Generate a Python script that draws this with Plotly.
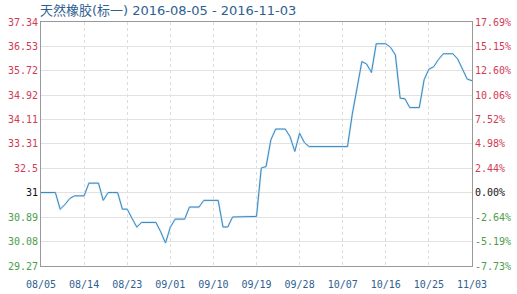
import plotly.graph_objects as go
import pandas as pd

start_date = "2016-08-05"
prices = [
    31.70, 31.70, 31.70, 31.70, 31.15, 31.30, 31.50, 31.59, 31.59, 31.59,   # 08/05-08/14
    32.01, 32.01, 32.01, 31.44, 31.70, 31.70, 31.70, 31.15, 31.15, 30.85,   # 08/15-08/24
    30.56, 30.71, 30.71, 30.71, 30.71, 30.40, 30.03, 30.55, 30.82, 30.82,   # 08/25-09/03
    30.82, 31.22, 31.22, 31.22, 31.44, 31.44, 31.44, 31.44, 30.56, 30.56,   # 09/04-09/13
    30.89, 30.89, 30.89, 30.89, 30.89, 30.91, 32.51, 32.56, 33.44, 33.80,   # 09/14-09/23
    33.80, 33.80, 33.55, 33.06, 33.66, 33.35, 33.22, 33.22, 33.22, 33.22,   # 09/24-10/03
    33.22, 33.22, 33.22, 33.22, 33.22, 34.29, 35.19, 36.03, 35.95, 35.67,   # 10/04-10/13
    36.62, 36.62, 36.62, 36.50, 36.25, 34.82, 34.80, 34.51, 34.51, 34.51,   # 10/14-10/23
    35.43, 35.78, 35.86, 36.10, 36.29, 36.29, 36.29, 36.12, 35.78, 35.45,   # 10/24-11/02
    35.40,                                                                   # 11/03
]
dates = pd.date_range(start_date, periods=len(prices), freq="D")

base_price = 31.70
y_ticks = [37.34, 36.53, 35.72, 34.92, 34.11, 33.31, 32.5, 31.70, 30.89, 30.08, 29.27]
y_labels = ["37.34", "36.53", "35.72", "34.92", "34.11", "33.31", "32.5", "31", "30.89", "30.08", "29.27"]
pct_labels = ["17.69%", "15.15%", "12.60%", "10.06%", "7.52%", "4.98%", "2.44%", "0.00%", "-2.64%", "-5.19%", "-7.73%"]
x_tick_dates = ["2016-08-05", "2016-08-14", "2016-08-23", "2016-09-01", "2016-09-10", "2016-09-19",
                "2016-09-28", "2016-10-07", "2016-10-16", "2016-10-25", "2016-11-03"]
x_tick_labels = ["08/05", "08/14", "08/23", "09/01", "09/10", "09/19", "09/28", "10/07", "10/16", "10/25", "11/03"]
title_text = "天然橡胶(标一) 2016-08-05 - 2016-11-03"

RED = "#d23a55"
GREEN = "#4a9e4a"
BLACK = "#111111"


def colored(labels, values):
    out = []
    for lab, v in zip(labels, values):
        if abs(v - base_price) < 1e-6:
            c = BLACK
        elif v > base_price:
            c = RED
        else:
            c = GREEN
        out.append(f'<span style="color:{c}">{lab}</span>')
    return out


fig = go.Figure()
fig.add_trace(go.Scatter(x=dates, y=prices, mode="lines",
                         line=dict(color="#d3e8f5", width=2.2), hoverinfo="skip", showlegend=False))
fig.add_trace(go.Scatter(x=dates, y=prices, mode="lines",
                         line=dict(color="#3a88bf", width=1), showlegend=False))
# invisible trace for right axis
fig.add_trace(go.Scatter(x=dates[:1], y=prices[:1], yaxis="y2", mode="lines",
                         line=dict(width=0), showlegend=False, hoverinfo="skip"))

y_range = [min(y_ticks), max(y_ticks)]
mono = "DejaVu Sans Mono"

fig.update_layout(
    width=517, height=294,
    margin=dict(l=41, r=45, t=22, b=28),
    paper_bgcolor="white", plot_bgcolor="white",
    title=dict(text=title_text, x=40 / 517, xanchor="left", y=1 - 10 / 294, yanchor="middle",
               font=dict(family="DejaVu Sans, Noto Sans CJK SC", size=13, color="#2f6190")),
    xaxis=dict(type="date", range=[dates[0], dates[-1]],
               tickvals=x_tick_dates, ticktext=x_tick_labels,
               showgrid=True, gridcolor="#dcdcdc", griddash="dot", gridwidth=1,
               showline=True, linecolor="#999999", linewidth=1, mirror=True,
               ticks="", ticklabelstandoff=9, automargin=False,
               tickfont=dict(family=mono, size=10, color="#2f6190"),
               zeroline=False),
    yaxis=dict(range=y_range, tickvals=y_ticks, ticktext=colored(y_labels, y_ticks),
               showgrid=True, gridcolor="#e2e2e2", gridwidth=1, automargin=False,
               showline=True, linecolor="#999999", linewidth=1,
               ticks="", tickfont=dict(family=mono, size=10), zeroline=False),
    yaxis2=dict(range=y_range, tickvals=y_ticks, ticktext=colored(pct_labels, y_ticks),
                overlaying="y", side="right", showgrid=False, automargin=False,
                showline=True, linecolor="#999999", linewidth=1,
                ticks="", tickfont=dict(family=mono, size=10), zeroline=False),
    shapes=[dict(type="line", xref="paper", x0=0, x1=1, yref="y", y0=base_price, y1=base_price,
                 line=dict(color="#9a9a9a", width=1), layer="below")],
)

fig.write_html("out.html")
